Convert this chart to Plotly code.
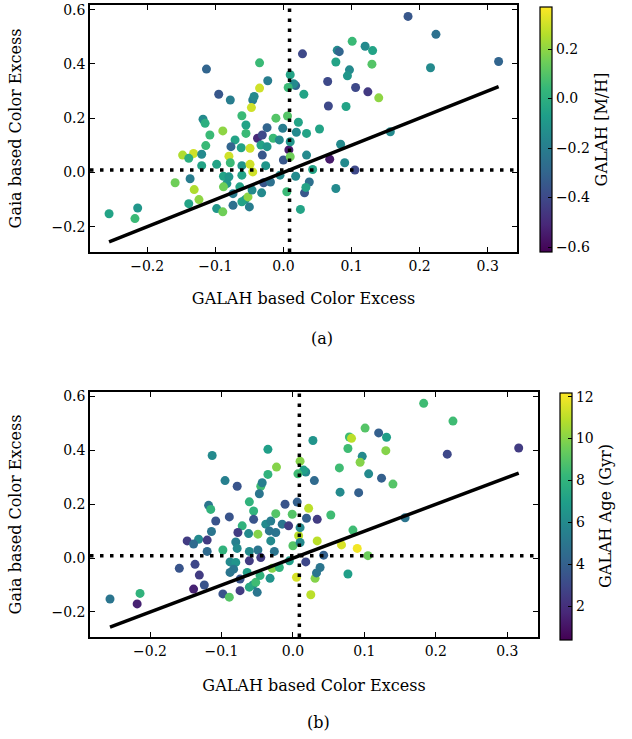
import plotly.graph_objects as go

# GALAH based colour excess (x) and Gaia based colour excess (y) per star
galah_ce = [
    -0.256, -0.214, -0.218, -0.159, -0.148, -0.132, -0.139, -0.137, -0.131, -0.124,
    -0.139, -0.113, -0.118, -0.115, -0.108, -0.114, -0.120, -0.120, -0.098, -0.089,
    -0.095, -0.078, -0.089, -0.098, -0.088, -0.080, -0.078, -0.080, -0.083, -0.088,
    -0.074, -0.074, -0.071, -0.077, -0.062, -0.061, -0.055, -0.055, -0.049, -0.061,
    -0.061, -0.049, -0.045, -0.064, -0.056, -0.061, -0.050, -0.052, -0.035, -0.023,
    -0.035, -0.045, -0.043, -0.047, -0.038, -0.031, -0.024, -0.031, -0.033, -0.024,
    -0.026, -0.015, -0.011, -0.006, -0.001, 0.000, -0.005, -0.029, -0.032, -0.046,
    -0.019, 0.005, 0.006, 0.008,
    0.183, 0.224, 0.316, 0.216, 0.101, 0.120, 0.131, 0.079, 0.082, 0.028,
    0.077, 0.130, 0.097, 0.094, 0.010, 0.018, 0.015, 0.007, 0.030, 0.065,
    0.106, 0.124, 0.140, 0.066, 0.092,
    0.022, 0.019, 0.034, 0.053, 0.157, 0.010,
    0.010, 0.034, 0.084, 0.068, 0.090, 0.105, 0.043,
    0.018, 0.038, 0.031, 0.033,
    0.077, 0.025,
]
gaia_ce = [
    -0.152, -0.131, -0.170, -0.038, 0.064, 0.070, 0.052, -0.023, -0.063, -0.100,
    -0.115, 0.381, 0.196, 0.181, 0.138, 0.099, 0.067, 0.025, -0.133, -0.145,
    0.288, 0.267, 0.153, 0.030, -0.014, 0.060, 0.036, -0.016, -0.041, -0.053,
    -0.078, -0.121, 0.120, 0.095, 0.091, 0.209, 0.175, 0.144, 0.089, 0.025,
    -0.010, 0.030, 0.002, -0.053, -0.100, -0.108, -0.127, -0.090, 0.404, 0.338,
    0.311, 0.267, 0.280, 0.239, 0.126, 0.138, 0.165, 0.064, 0.101, 0.095,
    0.025, 0.126, 0.200, 0.120, 0.163, 0.046, -0.010, -0.038, -0.075, -0.065,
    -0.035, -0.071, 0.208, 0.083,
    0.575, 0.509, 0.409, 0.386, 0.483, 0.465, 0.449, 0.450, 0.445, 0.437,
    0.407, 0.399, 0.378, 0.356, 0.360, 0.320, 0.327, 0.313, 0.288, 0.335,
    0.313, 0.297, 0.275, 0.245, 0.243,
    0.185, 0.148, 0.144, 0.160, 0.150, 0.113,
    0.058, 0.064, 0.104, 0.049, 0.036, 0.009, 0.011,
    -0.014, -0.035, -0.075, -0.055,
    -0.059, -0.136,
]
galah_mh = [
    -0.05, -0.10, 0.05, 0.15, 0.25, 0.30, 0.00, -0.20, 0.25, 0.20,
    -0.05, -0.30, -0.15, 0.00, 0.05, 0.05, -0.15, -0.05, -0.10, 0.15,
    -0.35, -0.20, 0.20, -0.05, -0.05, 0.30, 0.05, -0.10, -0.10, 0.15,
    -0.20, -0.25, -0.05, -0.30, -0.05, 0.05, -0.05, 0.05, 0.30, -0.10,
    -0.05, 0.30, 0.30, -0.05, -0.10, -0.05, -0.20, 0.20, 0.05, -0.20,
    0.30, -0.20, -0.15, 0.30, -0.50, -0.40, -0.30, -0.35, -0.05, -0.10,
    -0.10, 0.05, 0.10, -0.15, -0.20, -0.35, -0.15, -0.35, -0.15, -0.15,
    -0.25, 0.05, 0.10, -0.55,
    -0.35, -0.25, -0.30, -0.15, 0.05, -0.15, -0.05, -0.15, -0.30, -0.40,
    -0.05, 0.10, -0.15, -0.10, -0.05, -0.30, -0.15, 0.05, -0.05, -0.40,
    -0.40, -0.45, 0.20, -0.40, -0.05,
    -0.05, -0.15, -0.05, -0.05, -0.15, -0.10,
    0.15, -0.15, -0.15, -0.55, -0.15, -0.40, -0.05,
    -0.15, -0.25, -0.35, -0.05,
    -0.15, -0.05,
]
galah_age = [
    5, 8, 1.5, 3.5, 2.5, 6, 4.5, 3, 2.5, 3.5,
    1.5, 6, 5, 8, 3.5, 5, 2.5, 4.5, 3.5, 9,
    5.5, 3.5, 3.5, 8, 6, 5.5, 6, 6.5, 5, 5,
    3.5, 2.5, 8, 2.5, 6, 8, 8, 3.5, 10, 6,
    2.5, 5, 2.5, 7, 6, 7.5, 5, 8.5, 7, 10,
    8, 8.5, 5.5, 5, 6, 5.5, 9, 6, 5, 5,
    5, 5, 3.5, 2.5, 9, 9, 7, 10, 6.5, 8,
    8, 11.5, 4, 11,
    8.5, 8.5, 2.5, 3, 9, 4, 7, 8.5, 11, 6.5,
    8.5, 10, 6, 10, 10, 6, 7, 8.5, 4.5, 8.5,
    6, 4, 9, 6, 4,
    11, 4, 2.5, 8.5, 5, 6,
    6, 11, 8.5, 11.5, 12, 9.5, 4,
    3, 5, 10, 5,
    7, 11,
]
assert len(galah_ce) == len(gaia_ce) == len(galah_mh) == len(galah_age)

x_ticks = [-0.2, -0.1, 0.0, 0.1, 0.2, 0.3]
y_ticks = [-0.2, 0.0, 0.2, 0.4, 0.6]
mh_ticks = [-0.6, -0.4, -0.2, 0.0, 0.2]
age_ticks = [2, 4, 6, 8, 10, 12]
ref_x = 0.009   # vertical dotted reference
ref_y = 0.009   # horizontal dotted reference

FONT = "DejaVu Serif"
W, H = 632, 739

def px_x(p):
    return p / W

def px_y(p):
    return 1 - p / H

line_x = [min(galah_ce), max(galah_ce)]
line_y = list(line_x)

def cbar(xpx, ymid, lenpx, ticks, title, fmt):
    return dict(x=px_x(xpx), xanchor="left", y=px_y(ymid), yanchor="middle",
                len=lenpx / H, lenmode="fraction", thickness=12, xpad=0, ypad=0,
                outlinecolor="black", outlinewidth=1.2,
                tickvals=ticks, tickformat=fmt, ticks="inside",
                ticklen=4, tickcolor="black",
                tickfont=dict(family=FONT, size=14, color="black"),
                title=dict(text=title, side="right",
                           font=dict(family=FONT, size=16, color="black")))

fig = go.Figure()

fig.add_trace(go.Scatter(
    x=galah_ce, y=gaia_ce, mode="markers", xaxis="x", yaxis="y",
    marker=dict(size=9, color=galah_mh, colorscale="Viridis", cmin=-0.62, cmax=0.37,
                line=dict(width=0),
                colorbar=cbar(540, 129.5, 245, mh_ticks, "GALAH [M/H]", ".1f")),
    showlegend=False,
))
fig.add_trace(go.Scatter(
    x=line_x, y=line_y, mode="lines", xaxis="x", yaxis="y",
    line=dict(color="black", width=3.5), showlegend=False,
))

fig.add_trace(go.Scatter(
    x=galah_ce, y=gaia_ce, mode="markers", xaxis="x2", yaxis="y2",
    marker=dict(size=9, color=galah_age, colorscale="Viridis", cmin=0.4, cmax=12.2,
                line=dict(width=0),
                colorbar=cbar(560, 516, 247, age_ticks, "GALAH Age (Gyr)", "d")),
    showlegend=False,
))
fig.add_trace(go.Scatter(
    x=line_x, y=line_y, mode="lines", xaxis="x2", yaxis="y2",
    line=dict(color="black", width=3.5), showlegend=False,
))

axis_common = dict(
    showline=True, linecolor="black", linewidth=1.5, mirror="allticks",
    ticks="inside", ticklen=5, tickwidth=1.2, tickcolor="black",
    showgrid=False, zeroline=False, automargin=False,
    tickfont=dict(family=FONT, size=14, color="black"),
)
xr = [-0.284, 0.343]
yr = [-0.293, 0.617]
title_font = dict(family=FONT, size=16, color="black")

fig.update_layout(
    width=W, height=H,
    margin=dict(l=0, r=0, t=0, b=0, autoexpand=False),
    paper_bgcolor="white", plot_bgcolor="white",
    font=dict(family=FONT, color="black"),
    xaxis=dict(domain=[px_x(90), px_x(517)], anchor="y", range=xr,
               tickvals=x_ticks, tickformat=".1f",
               title=dict(text="GALAH based Color Excess", standoff=20, font=title_font),
               **axis_common),
    yaxis=dict(domain=[px_y(252), px_y(5)], anchor="x", range=yr,
               tickvals=y_ticks, tickformat=".1f",
               title=dict(text="Gaia based Color Excess", standoff=26, font=title_font),
               **axis_common),
    xaxis2=dict(domain=[px_x(90), px_x(538)], anchor="y2", range=xr,
                tickvals=x_ticks, tickformat=".1f",
                title=dict(text="GALAH based Color Excess", standoff=22, font=title_font),
                **axis_common),
    yaxis2=dict(domain=[px_y(637), px_y(392)], anchor="x2", range=yr,
                tickvals=y_ticks, tickformat=".1f",
                title=dict(text="Gaia based Color Excess", standoff=26, font=title_font),
                **axis_common),
    shapes=[
        dict(type="line", xref="x", yref="y domain", x0=ref_x, x1=ref_x, y0=0, y1=1,
             line=dict(color="black", width=3.5, dash="3.5px,6.5px"), layer="above"),
        dict(type="line", xref="x domain", yref="y", x0=0, x1=1, y0=ref_y, y1=ref_y,
             line=dict(color="black", width=3.5, dash="3.5px,6.5px"), layer="above"),
        dict(type="line", xref="x2", yref="y2 domain", x0=ref_x, x1=ref_x, y0=0, y1=1,
             line=dict(color="black", width=3.5, dash="3.5px,6.5px"), layer="above"),
        dict(type="line", xref="x2 domain", yref="y2", x0=0, x1=1, y0=ref_y, y1=ref_y,
             line=dict(color="black", width=3.5, dash="3.5px,6.5px"), layer="above"),
    ],
    annotations=[
        dict(text="(a)", x=px_x(322), y=px_y(338), xref="paper", yref="paper",
             showarrow=False, xanchor="center", yanchor="middle", font=title_font),
        dict(text="(b)", x=px_x(318), y=px_y(722), xref="paper", yref="paper",
             showarrow=False, xanchor="center", yanchor="middle", font=title_font),
    ],
)

fig.write_html("out.html", config={"displayModeBar": False},
               post_script="document.body.style.margin='0';")
